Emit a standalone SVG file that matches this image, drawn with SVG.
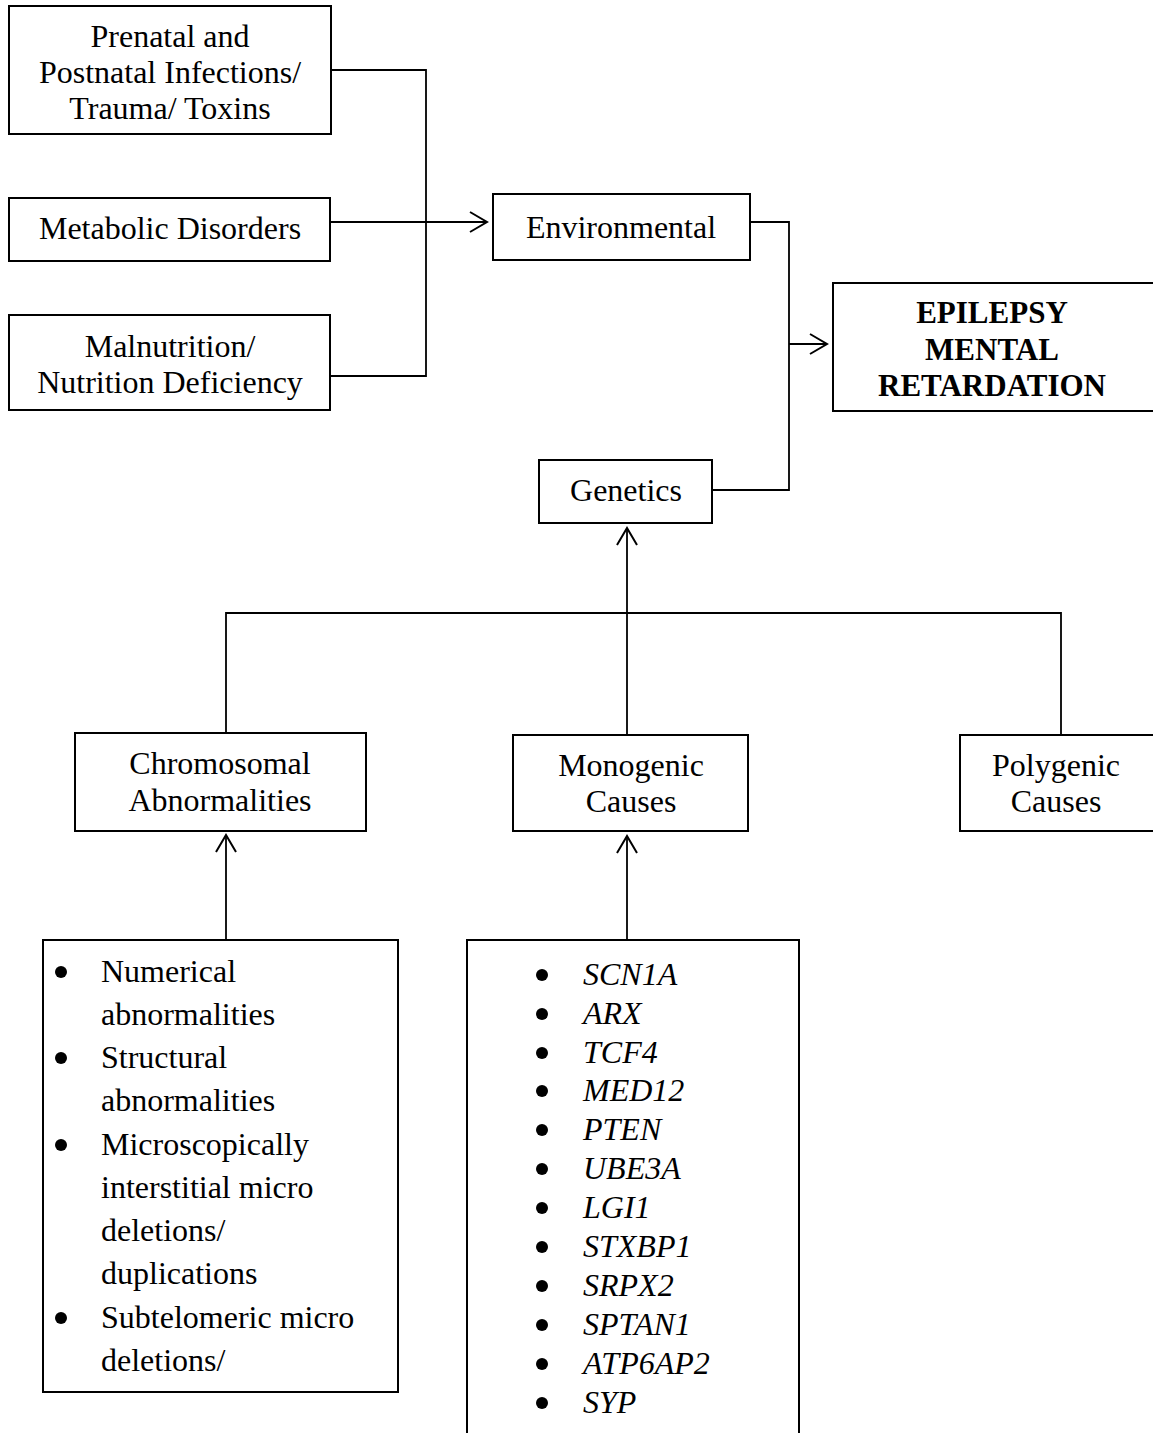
<svg xmlns="http://www.w3.org/2000/svg" width="1153" height="1433" viewBox="0 0 1153 1433">
<style>
.box{fill:#fff;stroke:#000;stroke-width:2}
.ln{fill:none;stroke:#000;stroke-width:1.8}
.t{font-family:"Liberation Serif","Times New Roman",serif;font-size:32px;fill:#000;text-anchor:middle}
.b{font-weight:bold;font-size:31px}
.l{font-family:"Liberation Serif","Times New Roman",serif;font-size:32px;fill:#000}
.i{font-style:italic}
</style>
<defs>
<marker id="arr" markerWidth="20" markerHeight="24" refX="18" refY="11" orient="auto" markerUnits="userSpaceOnUse">
<path d="M1,1 L18,11 L1,21" fill="none" stroke="#000" stroke-width="2"/>
</marker>
</defs>
<rect width="1153" height="1433" fill="#fff"/>
<g id="connectors">
<path class="ln" d="M331,70 H426 V376 H330"/>
<path class="ln" d="M331,222 H487" marker-end="url(#arr)"/>
<path class="ln" d="M750,222 H789 V490 H712"/>
<path class="ln" d="M789,344 H827" marker-end="url(#arr)"/>
<path class="ln" d="M627,735 V528" marker-end="url(#arr)" stroke-width="2.2"/>
<path class="ln" d="M226,733 V613 H1061 V735"/>
<path class="ln" d="M226,940 V835" marker-end="url(#arr)"/>
<path class="ln" d="M627,940 V836" marker-end="url(#arr)"/>
</g>
<g id="prenatal">
<rect class="box" x="9" y="6" width="322" height="128"/>
<text class="t" x="170" y="47">Prenatal and</text>
<text class="t" x="170" y="83">Postnatal Infections/</text>
<text class="t" x="170" y="119">Trauma/ Toxins</text>
</g>
<g id="metabolic">
<rect class="box" x="9" y="198" width="321" height="63"/>
<text class="t" x="170" y="239">Metabolic Disorders</text>
</g>
<g id="malnutrition">
<rect class="box" x="9" y="315" width="321" height="95"/>
<text class="t" x="170" y="357">Malnutrition/</text>
<text class="t" x="170" y="393">Nutrition Deficiency</text>
</g>
<g id="environmental">
<rect class="box" x="493" y="194" width="257" height="66"/>
<text class="t" x="621" y="238">Environmental</text>
</g>
<g id="epilepsy">
<rect class="box" x="833" y="283" width="330" height="128"/>
<text class="t b" x="992" y="323">EPILEPSY</text>
<text class="t b" x="992" y="360">MENTAL</text>
<text class="t b" x="992" y="396">RETARDATION</text>
</g>
<g id="genetics">
<rect class="box" x="539" y="460" width="173" height="63"/>
<text class="t" x="626" y="501">Genetics</text>
</g>
<g id="chromosomal">
<rect class="box" x="75" y="733" width="291" height="98"/>
<text class="t" x="220" y="774">Chromosomal</text>
<text class="t" x="220" y="811">Abnormalities</text>
</g>
<g id="monogenic">
<rect class="box" x="513" y="735" width="235" height="96"/>
<text class="t" x="631" y="776">Monogenic</text>
<text class="t" x="631" y="812">Causes</text>
</g>
<g id="polygenic">
<rect class="box" x="960" y="735" width="200" height="96"/>
<text class="t" x="1056" y="776">Polygenic</text>
<text class="t" x="1056" y="812">Causes</text>
</g>
<g id="chromosomal-list">
<rect class="box" x="43" y="940" width="355" height="452"/>
<g fill="#000">
<circle cx="61" cy="972" r="6"/>
<circle cx="61" cy="1058" r="6"/>
<circle cx="61" cy="1145" r="6"/>
<circle cx="61" cy="1318" r="6"/>
</g>
<text class="l" x="101" y="982">Numerical</text>
<text class="l" x="101" y="1025">abnormalities</text>
<text class="l" x="101" y="1068">Structural</text>
<text class="l" x="101" y="1111">abnormalities</text>
<text class="l" x="101" y="1155">Microscopically</text>
<text class="l" x="101" y="1198">interstitial micro</text>
<text class="l" x="101" y="1241">deletions/</text>
<text class="l" x="101" y="1284">duplications</text>
<text class="l" x="101" y="1328">Subtelomeric micro</text>
<text class="l" x="101" y="1371">deletions/</text>
</g>
<g id="monogenic-list">
<path class="box" d="M467,1440 V940 H799 V1440"/>
<g fill="#000">
<circle cx="542" cy="975" r="6"/>
<circle cx="542" cy="1014" r="6"/>
<circle cx="542" cy="1053" r="6"/>
<circle cx="542" cy="1091" r="6"/>
<circle cx="542" cy="1130" r="6"/>
<circle cx="542" cy="1169" r="6"/>
<circle cx="542" cy="1208" r="6"/>
<circle cx="542" cy="1247" r="6"/>
<circle cx="542" cy="1286" r="6"/>
<circle cx="542" cy="1325" r="6"/>
<circle cx="542" cy="1364" r="6"/>
<circle cx="542" cy="1403" r="6"/>
</g>
<text class="l i" x="583" y="985">SCN1A</text>
<text class="l i" x="583" y="1024">ARX</text>
<text class="l i" x="583" y="1063">TCF4</text>
<text class="l i" x="583" y="1101">MED12</text>
<text class="l i" x="583" y="1140">PTEN</text>
<text class="l i" x="583" y="1179">UBE3A</text>
<text class="l i" x="583" y="1218">LGI1</text>
<text class="l i" x="583" y="1257">STXBP1</text>
<text class="l i" x="583" y="1296">SRPX2</text>
<text class="l i" x="583" y="1335">SPTAN1</text>
<text class="l i" x="583" y="1374">ATP6AP2</text>
<text class="l i" x="583" y="1413">SYP</text>
</g>
</svg>
